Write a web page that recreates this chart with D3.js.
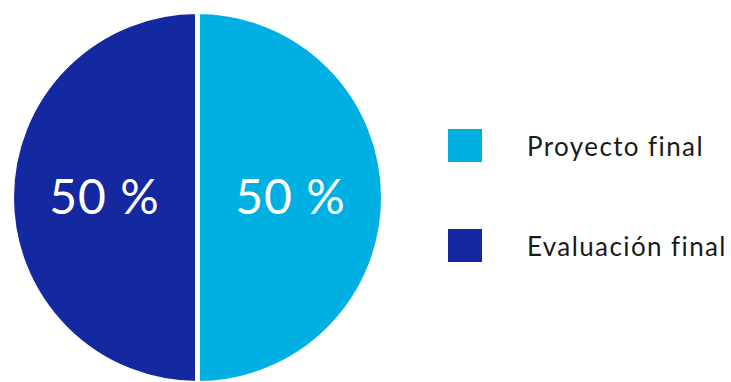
<!DOCTYPE html>
<html>
<head>
<meta charset="utf-8">
<script src="https://cdn.jsdelivr.net/npm/d3@7"></script>
<style>
  body { margin: 0; background: #fff; }
</style>
</head>
<body>
<script>
var w = 731;
var h = 382;

var categories = ["Proyecto final", "Evaluación final"];
var values = [50, 50];
var labels = ["50 %", "50 %"];
var colors = ["#00B0E2", "#14289F"];

var cx = 197.5, cy = 197.5, r = 186;

var svg = d3.select("body")
            .append("svg")
            .attr("width", w)
            .attr("height", h);

var pie = d3.pie().sort(null).value(d => d);
var arcs = pie(values);

var arc = d3.arc().innerRadius(0).outerRadius(r);

var g = svg.append("g").attr("transform", "translate(" + cx + "," + cy + ")");

g.selectAll("path")
  .data(arcs)
  .enter()
  .append("path")
  .attr("d", arc)
  .attr("fill", (d, i) => colors[i])
  .attr("stroke", "#fff")
  .attr("stroke-width", 5);

// labels at the slice centroid
g.selectAll("text")
  .data(arcs)
  .enter()
  .append("text")
  .attr("x", d => arc.centroid(d)[0])
  .attr("y", 16)
  .attr("text-anchor", "middle")
  .attr("fill", "#fff")
  .style("font-family", "Lato, 'Noto Sans', sans-serif")
  .style("font-size", "48px")
  .style("letter-spacing", "1px")
  .text((d, i) => labels[i]);

// legend
var legend = svg.append("g");
var ly = d3.scaleBand().domain(categories).range([95.5, 295.5]);

legend.selectAll("rect")
  .data(categories)
  .enter()
  .append("rect")
  .attr("x", 448)
  .attr("y", d => ly(d) + ly.bandwidth() / 2 - 16.5)
  .attr("width", 34)
  .attr("height", 33)
  .attr("fill", (d, i) => colors[i]);

legend.selectAll("text")
  .data(categories)
  .enter()
  .append("text")
  .attr("x", 527)
  .attr("y", d => ly(d) + ly.bandwidth() / 2 + 10)
  .attr("fill", "#1a1a1a")
  .style("font-family", "Lato, 'Noto Sans', sans-serif")
  .style("font-size", "26px")
  .style("letter-spacing", "1.4px")
  .text(d => d);
</script>
</body>
</html>
